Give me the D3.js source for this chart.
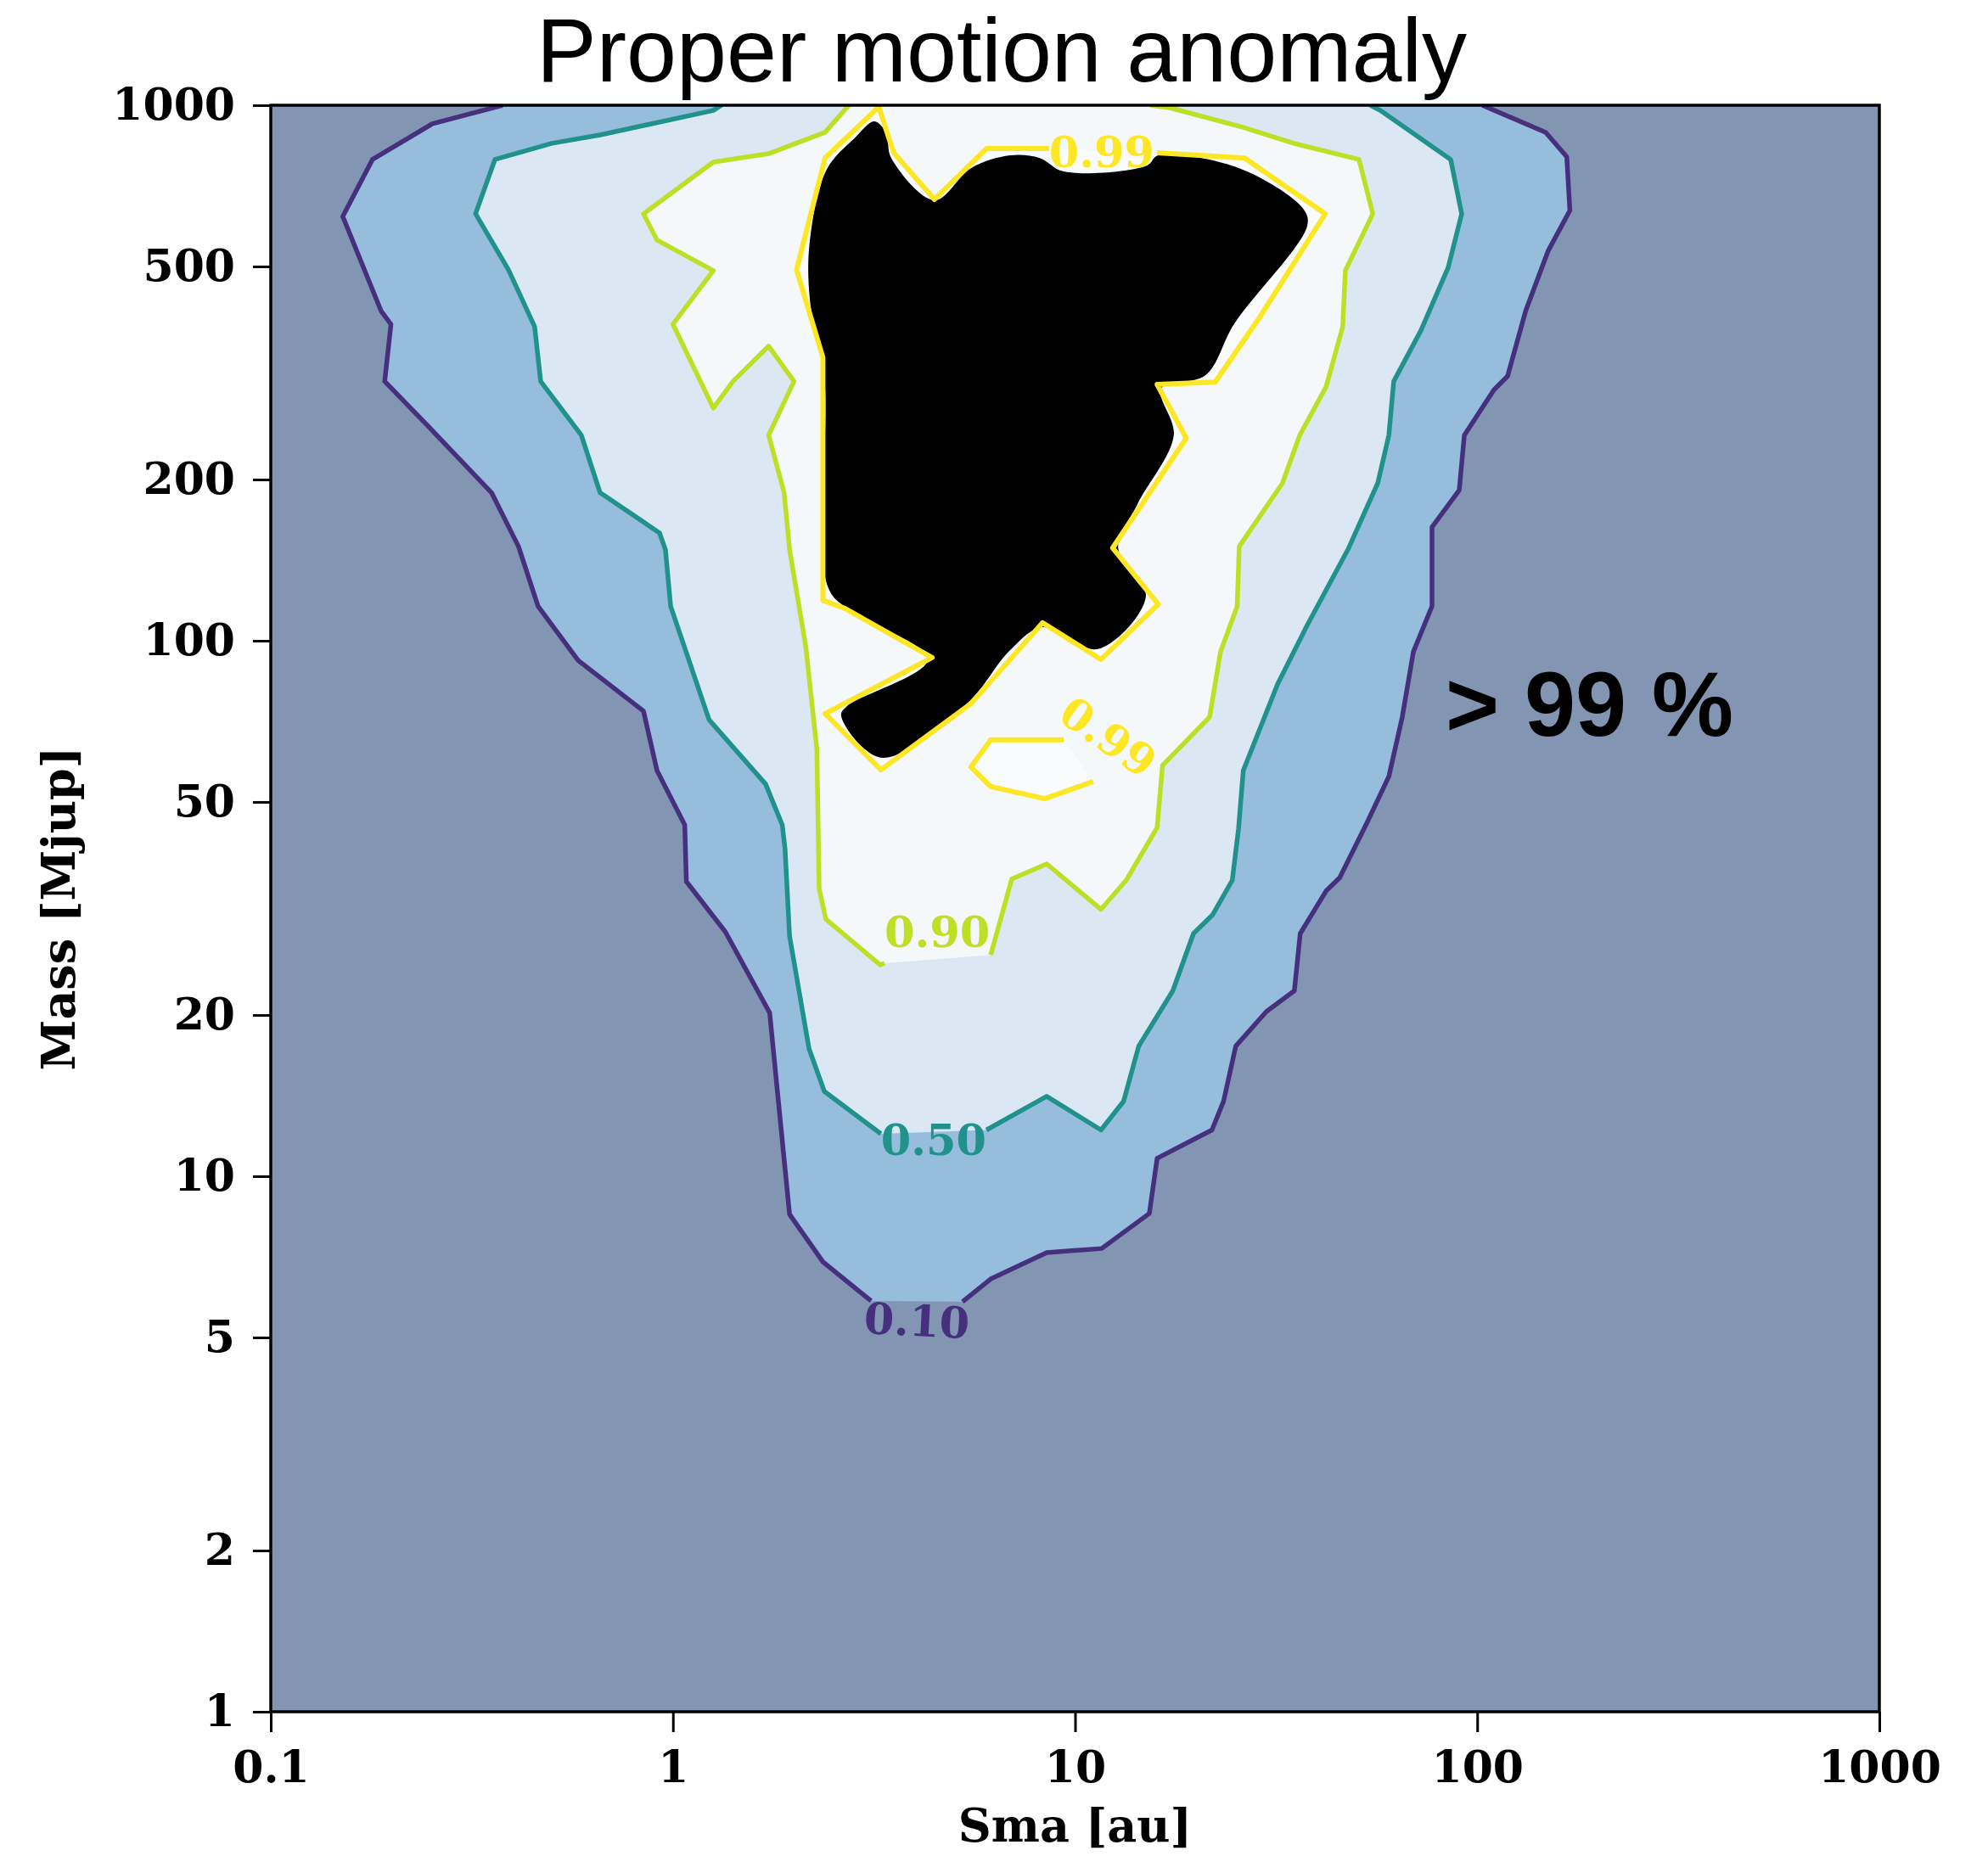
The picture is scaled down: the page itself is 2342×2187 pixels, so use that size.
<!DOCTYPE html>
<html>
<head>
<meta charset="UTF-8">
<style>
  body { margin: 0; background: #fff; }
</style>
</head>
<body>
<svg id="chart"></svg>
<script src="https://d3js.org/d3.v7.min.js"></script>
<script>

// axis ticks
const xTicks = [0.1, 1, 10, 100, 1000];
const yTicks = [1, 2, 5, 10, 20, 50, 100, 200, 500, 1000];

// contour lines, [sma au, mass Mjup], split where the inline label sits
const contour10 = [
  [[0.377,1000],[0.252,923],[0.179,792],[0.151,620],[0.188,413],[0.199,390],[0.192,305],[0.252,247],
   [0.354,189],[0.413,150],[0.462,116],[0.581,91.9],[0.845,73.9],[0.913,57.2],[1.07,45.3],[1.08,35.5],
   [1.35,28.6],[1.74,20.2],[1.95,8.49],[2.36,6.92],[3.11,5.85]],
  [[5.25,5.83],[6.17,6.43],[8.50,7.20],[11.65,7.33],[15.3,8.52],[16.0,10.8],[21.9,12.2],[23.4,13.8],
   [25.1,17.5],[29.9,20.3],[35.1,22.2],[36.3,28.4],[42.1,34.1],[45.5,36.1],[53.1,45.6],[60.3,55.8],
   [65.1,72.0],[69.4,95.4],[77.2,116],[77.2,163],[90.2,191],[92.9,242],[110,294],[119,312],[132,413],
   [150,534],[170,636],[167,801],[148,890],[103,1000]]
];

const contour50 = [
  [[1.32,1000],[1.26,978],[0.659,880],[0.50,849],[0.361,792],[0.323,627],[0.39,493],[0.453,386],
   [0.469,305],[0.592,242],[0.659,189],[0.926,159],[0.958,148],[0.987,116],[1.23,71.2],[1.70,54.0],
   [1.87,45.3],[1.90,40.9],[1.95,28.1],[2.18,17.3],[2.38,14.4],[3.29,12.0]],
  [[6.02,12.2],[8.50,14.1],[11.6,12.2],[13.2,13.8],[14.4,17.5],[17.5,22.2],[19.7,28.4],[22.0,30.8],
   [24.6,35.7],[25.5,44.6],[26.2,57.2],[31.9,83.0],[37.8,107],[47.7,148],[56.6,197],[60.3,242],
   [62.0,305],[72.5,380],[84.7,498],[91.5,627],[85.9,792],[57.4,978],[54.2,1000]]
];

const contour90 = [
  [[2.74,1000],[2.39,890],[1.73,812],[1.26,783],[0.845,627],[0.913,560],[1.26,491],[1.00,390],
   [1.26,272],[1.41,305],[1.73,355],[2.00,305],[1.73,242],[1.89,189],[1.95,148],[2.14,97.5],
   [2.28,62.7],[2.31,34.4],[2.40,30.2],[3.28,24.8],[3.36,25.0]],
  [[6.17,25.9],[6.96,35.9],[8.50,38.3],[11.6,31.5],[13.4,35.7],[16.0,44.8],[16.5,58.5],[21.6,72.0],
   [23.0,95.4],[25.3,116],[25.6,150],[32.8,197],[36.2,242],[42.1,298],[46.3,386],[47.0,491],
   [55.0,627],[50.8,792],[35.0,849],[26.1,910],[17.2,989],[15.4,1000]]
];

const contour99 = [
  [[16.0,815],[26.4,797],[41.9,627],[28.6,399],[22.3,304],[16.0,301],[18.9,239],[12.4,149],
   [16.1,117],[11.6,92.3],[8.30,108],[5.51,76.3],[3.29,57.4],[2.39,73.1],[4.41,93.0],[2.67,115],
   [2.36,119],[2.36,338],[2.03,493],[2.39,797],[3.25,993],[3.54,815],[4.47,667],[6.02,830],[8.62,830]]
];

const contour99b = [
  [[9.37,65.3],[6.17,65.3],[5.51,58.1],[6.17,53.4],[8.41,50.7],[11.1,54.6]]
];

// hand-drawn > 99 % region
const blob = [[3.17,933],[3.39,887],[3.49,797],[4.47,665],[5.51,763],[6.90,806],[8.17,797],[9.37,752],
  [15.1,772],[16.1,806],[25.6,763],[36.9,641],[37.8,596],[24.9,391],[21.1,313],[16.4,296],[17.6,242],
  [14.3,180],[12.8,149],[15.0,121],[11.4,96.5],[8.30,106],[6.90,96.1],[5.38,76.3],[3.29,60.5],
  [2.62,72.5],[2.71,75.5],[4.30,92.3],[2.75,114],[2.43,126],[2.38,311],[2.19,434],[2.19,558],
  [2.41,758],[2.83,868]];

const lineColors = ["#46307e", "#21918c", "#bddf26", "#fde725"];
const lineWidths = [5.5, 5.5, 5.5, 6];
const fillColors = ["#97bddd", "#dbe8f3", "#f4f8fb", "#f9fbfd"];
const outsideFill = "#8296b3";

// inline labels: [text, sma, mass, angle, level index]
const contourLabels = [
  ["0.10", 4.04, 5.38, 3, 0],
  ["0.50", 4.45, 11.7, 0, 1],
  ["0.90", 4.54, 28.6, 0, 2],
  ["0.99", 11.65, 818, 0, 3],
  ["0.99", 12.1, 66.2, 35, 3]
];

const annotation = {text: "> 99 %", sma: 83.4, mass: 66.4};

const width = 2342, height = 2187;
const pLeft = 319, pRight = 2214, pTop = 124, pBottom = 2017;

const svg = d3.select("#chart")
  .attr("width", width)
  .attr("height", height)
  .style("display", "block");

const x = d3.scaleLog().domain([0.1, 1000]).range([pLeft, pRight]);
const y = d3.scaleLog().domain([1, 1000]).range([pBottom, pTop]);

svg.append("defs").append("clipPath").attr("id", "plotclip")
  .append("rect")
  .attr("x", pLeft).attr("y", pTop)
  .attr("width", pRight - pLeft).attr("height", pBottom - pTop);

const plot = svg.append("g").attr("clip-path", "url(#plotclip)");

plot.append("rect")
  .attr("x", pLeft).attr("y", pTop)
  .attr("width", pRight - pLeft).attr("height", pBottom - pTop)
  .attr("fill", outsideFill);

const line = d3.line().x(d => x(d[0])).y(d => y(d[1]));

const filled = [contour10, contour50, contour90, contour99, contour99b];
const fillIndex = [0, 1, 2, 3, 3];

// filled bands
filled.forEach((segs, i) => {
  plot.append("path")
    .attr("d", line(segs.flat()) + "Z")
    .attr("fill", fillColors[fillIndex[i]]);
});

// black overlay
plot.append("path")
  .attr("d", d3.line().x(d => x(d[0])).y(d => y(d[1])).curve(d3.curveCatmullRomClosed.alpha(0.5))(blob))
  .attr("fill", "#000");

// contour lines
filled.forEach((segs, i) => {
  segs.forEach(s => {
    plot.append("path")
      .attr("d", line(s))
      .attr("fill", "none")
      .attr("stroke", lineColors[fillIndex[i]])
      .attr("stroke-width", lineWidths[fillIndex[i]])
      .attr("stroke-linejoin", "round");
  });
});

// inline labels
plot.selectAll("text.clabel")
  .data(contourLabels)
  .enter()
  .append("text")
  .attr("class", "clabel")
  .attr("transform", d => "translate(" + x(d[1]) + "," + y(d[2]) + ") rotate(" + d[3] + ")")
  .attr("text-anchor", "middle")
  .attr("dy", "0.36em")
  .style("font-family", "'DejaVu Serif', serif")
  .style("font-weight", "bold")
  .style("font-size", "51px")
  .attr("fill", d => lineColors[d[4]])
  .text(d => d[0]);

plot.append("text")
  .attr("x", x(annotation.sma))
  .attr("y", y(annotation.mass))
  .style("font-family", "'Liberation Sans', Arial, sans-serif")
  .style("font-weight", "bold")
  .style("font-size", "108px")
  .attr("fill", "#000")
  .text(annotation.text);

// frame
svg.append("rect")
  .attr("x", pLeft).attr("y", pTop)
  .attr("width", pRight - pLeft).attr("height", pBottom - pTop)
  .attr("fill", "none")
  .attr("stroke", "#000")
  .attr("stroke-width", 3.5);

// axes
const xAxis = svg.append("g")
  .attr("transform", "translate(0," + pBottom + ")")
  .call(d3.axisBottom(x).tickValues(xTicks).tickFormat(d => String(d))
    .tickSize(24).tickSizeOuter(0).tickPadding(22));

const yAxis = svg.append("g")
  .attr("transform", "translate(" + pLeft + ",0)")
  .call(d3.axisLeft(y).tickValues(yTicks).tickFormat(d => String(d))
    .tickSize(21).tickSizeOuter(0).tickPadding(21));

[xAxis, yAxis].forEach(g => {
  g.select(".domain").remove();
  g.selectAll(".tick line").attr("stroke", "#000").attr("stroke-width", 3);
  g.selectAll(".tick text")
    .attr("fill", "#000")
    .style("font-family", "'DejaVu Serif', serif")
    .style("font-weight", "bold")
    .style("font-size", "52px");
});

svg.append("text")
  .attr("x", (pLeft + pRight) / 2)
  .attr("y", 2170)
  .attr("text-anchor", "middle")
  .style("font-family", "'DejaVu Serif', serif")
  .style("font-weight", "bold")
  .style("font-size", "54px")
  .text("Sma [au]");

svg.append("text")
  .attr("transform", "translate(88," + (pTop + pBottom) / 2 + ") rotate(-90)")
  .attr("text-anchor", "middle")
  .style("font-family", "'DejaVu Serif', serif")
  .style("font-weight", "bold")
  .style("font-size", "54px")
  .text("Mass [Mjup]");

svg.append("text")
  .attr("x", 1180)
  .attr("y", 96)
  .attr("text-anchor", "middle")
  .style("font-family", "'Liberation Sans', Arial, sans-serif")
  .style("font-size", "106px")
  .text("Proper motion anomaly");

</script>
</body>
</html>
